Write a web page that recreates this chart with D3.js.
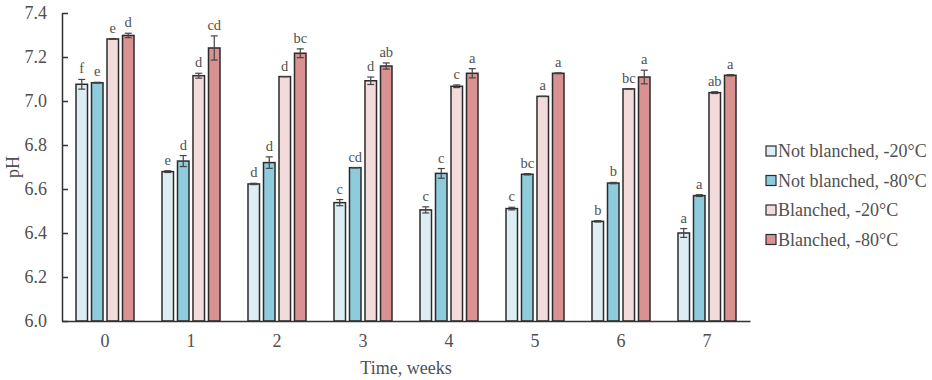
<!DOCTYPE html>
<html>
<head>
<meta charset="utf-8">
<script src="https://cdn.jsdelivr.net/npm/d3@7"></script>
<style>
  html, body { margin: 0; padding: 0; background: #fff; }
  svg { display: block; font-family: "Liberation Serif", "Times New Roman", serif; }
</style>
</head>
<body>
<svg id="chart" width="932" height="380"></svg>
<script>
// ---- data ----
const weeks = ["0", "1", "2", "3", "4", "5", "6", "7"];
const seriesNames = ["Not blanched, -20°C", "Not blanched, -80°C", "Blanched, -20°C", "Blanched, -80°C"];
const notBlanched20 = [7.076, 6.679, 6.623, 6.538, 6.505, 6.511, 6.453, 6.400];
const notBlanched80 = [7.083, 6.727, 6.720, 6.697, 6.671, 6.667, 6.627, 6.570];
const blanched20    = [7.282, 7.115, 7.111, 7.092, 7.067, 7.021, 7.055, 7.038];
const blanched80    = [7.298, 7.241, 7.217, 7.159, 7.126, 7.126, 7.109, 7.117];
const errNB20 = [0.022, 0.004, 0.003, 0.014, 0.014, 0.006, 0.003, 0.020];
const errNB80 = [0.002, 0.025, 0.026, 0.000, 0.022, 0.003, 0.003, 0.004];
const errB20  = [0.002, 0.011, 0.000, 0.017, 0.006, 0.000, 0.000, 0.004];
const errB80  = [0.010, 0.055, 0.020, 0.014, 0.021, 0.002, 0.031, 0.003];
const lettersNB20 = ["f", "e", "d", "c", "c", "c", "b", "a"];
const lettersNB80 = ["e", "d", "d", "cd", "c", "bc", "b", "a"];
const lettersB20  = ["e", "d", "d", "d", "c", "a", "bc", "ab"];
const lettersB80  = ["d", "cd", "bc", "ab", "a", "a", "a", "a"];
const yTicks = [6.0, 6.2, 6.4, 6.6, 6.8, 7.0, 7.2, 7.4];
const colors = ["#dcedf4", "#8ecbdc", "#f3dbdc", "#d99192"];

const values = [notBlanched20, notBlanched80, blanched20, blanched80];
const errors = [errNB20, errNB80, errB20, errB80];
const letters = [lettersNB20, lettersNB80, lettersB20, lettersB80];

// ---- layout ----
const svg = d3.select("#chart");
const mLeft = 62, mRight = 750, mTop = 13, mBottom = 321;

const x = d3.scaleBand().domain(weeks).range([mLeft, mRight]).padding(0);
const xs = d3.scaleBand().domain(d3.range(4)).range([-29, 29]).paddingInner(0.258).paddingOuter(0);
const y = d3.scaleLinear().domain([6.0, 7.4]).range([mBottom, mTop]);

const axisColor = "#333";
const textColor = "#505050";
const serif = "'Liberation Serif', 'Times New Roman', serif";

// y axis
const yAxis = svg.append("g").attr("transform", `translate(${mLeft},0)`)
  .call(d3.axisLeft(y).tickValues(yTicks).tickFormat(d3.format(".1f")).tickSizeInner(-6).tickSizeOuter(0).tickPadding(15));
yAxis.attr("font-family", null).attr("font-size", null);
yAxis.select(".domain").attr("stroke", axisColor).attr("stroke-width", 1.5);
yAxis.selectAll(".tick line").attr("stroke", axisColor).attr("stroke-width", 1.5);
yAxis.selectAll(".tick text").attr("fill", textColor).style("font-size", "18px").style("font-family", serif);

// bars
const data = [];
weeks.forEach((w, i) => {
  for (let s = 0; s < 4; s++) {
    data.push({ w, s, v: values[s][i], e: errors[s][i], l: letters[s][i] });
  }
});

const barW = xs.bandwidth();
const bx = d => x(d.w) + x.bandwidth() / 2 + xs(d.s);

svg.append("g").selectAll("rect").data(data).join("rect")
  .attr("x", bx)
  .attr("y", d => y(d.v))
  .attr("width", barW)
  .attr("height", d => y(6.0) - y(d.v))
  .attr("fill", d => colors[d.s])
  .attr("stroke", "#2b2b2b")
  .attr("stroke-width", 1.5);

// error bars
const eg = svg.append("g").attr("stroke", "#444").attr("stroke-width", 1.2);
data.forEach(d => {
  const cx = bx(d) + barW / 2;
  const y1 = y(d.v + d.e), y2 = y(d.v - d.e);
  eg.append("line").attr("x1", cx).attr("x2", cx).attr("y1", y1).attr("y2", y2);
  eg.append("line").attr("x1", cx - 3.5).attr("x2", cx + 3.5).attr("y1", y1).attr("y2", y1);
  eg.append("line").attr("x1", cx - 3.5).attr("x2", cx + 3.5).attr("y1", y2).attr("y2", y2);
});

// letters
svg.append("g").selectAll("text").data(data).join("text")
  .attr("x", d => bx(d) + barW / 2)
  .attr("y", d => y(d.v + d.e) - 6)
  .attr("text-anchor", "middle")
  .attr("fill", textColor)
  .style("font-family", serif)
  .style("font-size", "14.5px")
  .text(d => d.l);

// x axis
const xAxis = svg.append("g").attr("transform", `translate(0,${mBottom})`)
  .call(d3.axisBottom(x).tickSize(0).tickPadding(13));
xAxis.attr("font-family", null).attr("font-size", null);
xAxis.select(".domain").attr("stroke", axisColor).attr("stroke-width", 1.5);
xAxis.selectAll(".tick text").attr("fill", textColor).style("font-size", "18px").style("font-family", serif);

// axis titles
svg.append("text").attr("x", (mLeft + mRight) / 2).attr("y", 374)
  .attr("text-anchor", "middle").attr("fill", textColor)
  .style("font-family", serif).style("font-size", "18px")
  .text("Time, weeks");
svg.append("text").attr("transform", `translate(19,${(mTop + mBottom) / 2}) rotate(-90)`)
  .attr("text-anchor", "middle").attr("fill", textColor)
  .style("font-family", serif).style("font-size", "18px")
  .text("pH");

// legend
const lg = svg.append("g").attr("transform", "translate(766,151)");
seriesNames.forEach((n, i) => {
  const g = lg.append("g").attr("transform", `translate(0,${i * 29.5})`);
  g.append("rect").attr("x", 0).attr("y", -5).attr("width", 10).attr("height", 10)
    .attr("fill", colors[i]).attr("stroke", "#2b2b2b").attr("stroke-width", 1.2);
  g.append("text").attr("x", 12).attr("y", 0).attr("dy", "0.35em")
    .attr("fill", textColor).style("font-family", serif).style("font-size", "18px").text(n);
});
</script>
</body>
</html>
